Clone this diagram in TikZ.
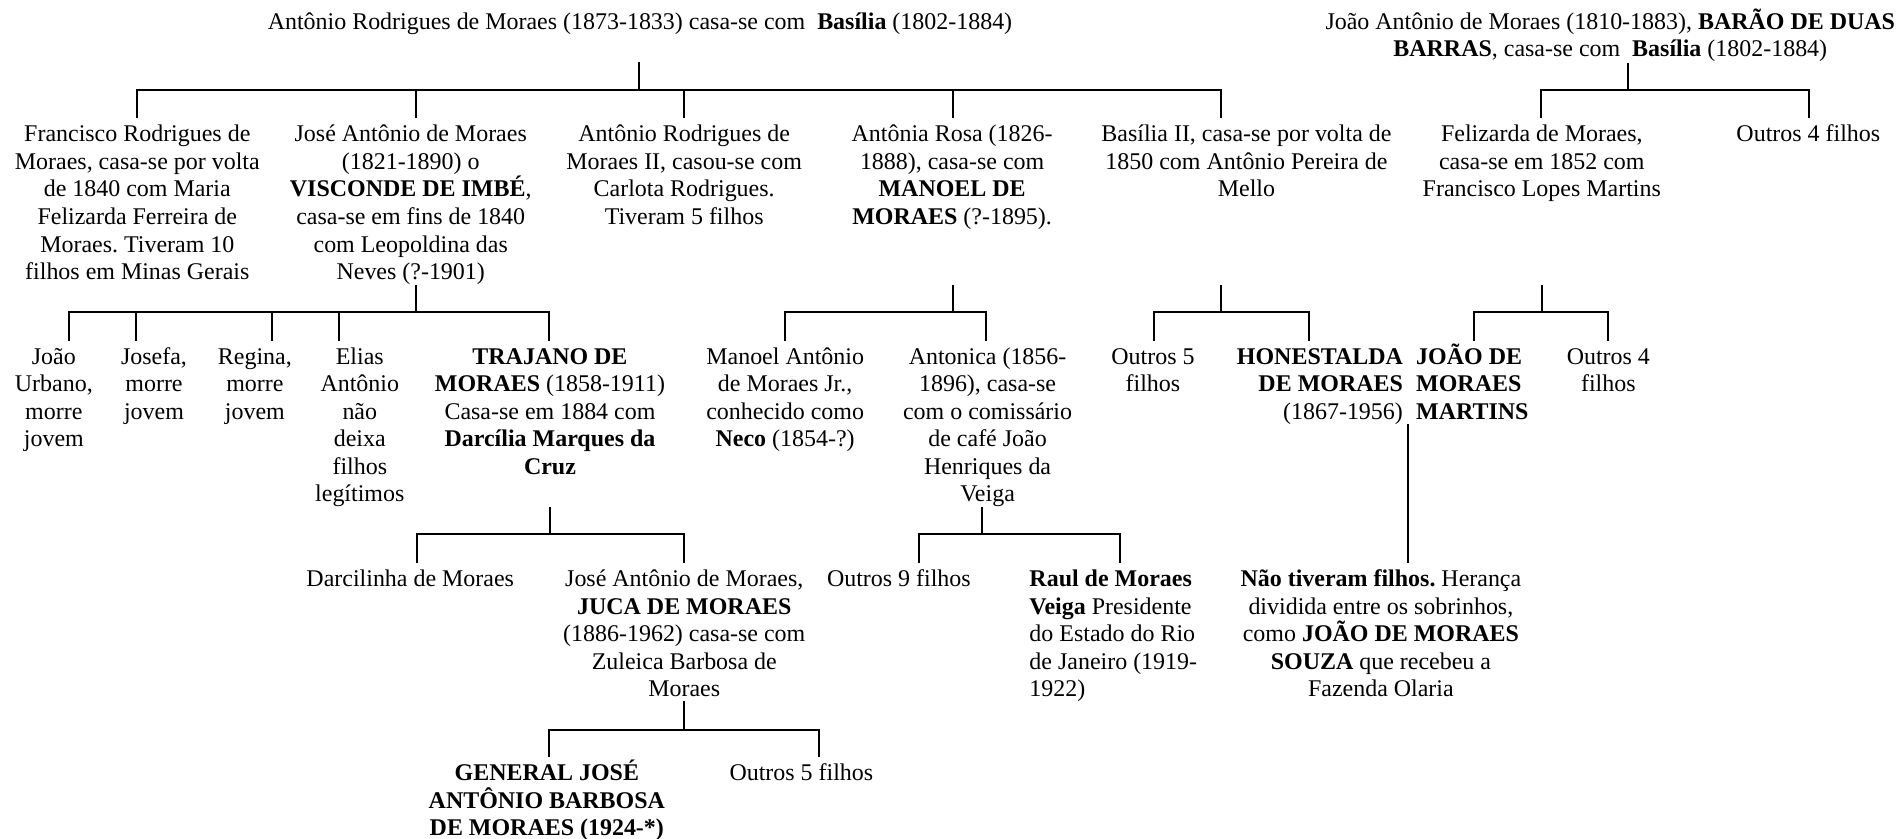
\documentclass[tikz,border=0pt]{standalone}
\usepackage{fontspec}
\setmainfont{Liberation Serif}
\newcommand\fl{\rule{0pt}{18.5pt}}
\frenchspacing
\begin{document}
\begin{tikzpicture}[x=1pt,y=-1pt,line width=1.6pt,
  txt/.style={align=center,inner sep=0pt,anchor=north,font=\fontsize{19.8}{22.8}\selectfont},
  txtl/.style={txt,align=left},
  txtr/.style={txt,align=right}]
\useasboundingbox (0,0) rectangle (1568,693);

% ---------- titles ----------
\node[txt] (t1) at (529,4.9) {\fl Antônio Rodrigues de Moraes (1873-1833) casa-se com~ \textbf{Basília} (1802-1884)};
\node[txt] (t2) at (1331,4.9) {\fl João Antônio de Moraes (1810-1883), \textbf{BARÃO DE DUAS}\\\textbf{BARRAS}, casa-se com~ \textbf{Basília} (1802-1884)};

% ---------- level 1 ----------
\node[txt] (fran) at (113.5,97.8) {\fl Francisco Rodrigues de\\Moraes, casa-se por volta\\de 1840 com Maria\\Felizarda Ferreira de\\Moraes. Tiveram 10\\filhos em Minas Gerais};
\node[txt] (jose) at (339.5,97.8) {\fl José Antônio de Moraes\\(1821-1890) o\\\textbf{VISCONDE DE IMBÉ},\\casa-se em fins de 1840\\com Leopoldina das\\Neves (?-1901)};
\node[txt] (ant2) at (565.5,97.8) {\fl Antônio Rodrigues de\\Moraes II, casou-se com\\Carlota Rodrigues.\\Tiveram 5 filhos};
\node[txt] (arosa) at (787,97.8) {\fl Antônia Rosa (1826-\\1888), casa-se com\\\textbf{MANOEL DE}\\\textbf{MORAES} (?-1895).};
\node[txt] (bas2) at (1030.3,97.8) {\fl Basília II, casa-se por volta de\\1850 com Antônio Pereira de\\Mello};
\node[txt] (feliz) at (1274.4,97.8) {\fl Felizarda de Moraes,\\casa-se em 1852 com\\Francisco Lopes Martins};
\node[txt] (outa) at (1494.7,97.8) {\fl Outros 4 filhos};

% ---------- level 2 ----------
\node[txt] (joao) at (44.5,281.6) {\fl João\\Urbano,\\morre\\jovem};
\node[txt] (josefa) at (127.3,281.6) {\fl Josefa,\\morre\\jovem};
\node[txt] (regina) at (210.7,281.6) {\fl Regina,\\morre\\jovem};
\node[txt] (elias) at (297.4,281.6) {\fl Elias\\Antônio\\não\\deixa\\filhos\\legítimos};
\node[txt] (traj) at (454.6,281.6) {\fl\textbf{TRAJANO DE}\\\textbf{MORAES} (1858-1911)\\Casa-se em 1884 com\\\textbf{Darcília Marques da}\\\textbf{Cruz}};
\node[txt] (neco) at (649,281.6) {\fl Manoel Antônio\\de Moraes Jr.,\\conhecido como\\\textbf{Neco} (1854-?)};
\node[txt] (antonica) at (816.3,281.6) {\fl Antonica (1856-\\1896), casa-se\\com o comissário\\de café João\\Henriques da\\Veiga};
\node[txt] (outb) at (953,281.6) {\fl Outros 5\\filhos};
\node[txtr] (hon) at (1091,281.6) {\fl\textbf{HONESTALDA}\\\textbf{DE MORAES}\\(1867-1956)};
\node[txtl] (jmm) at (1217,281.6) {\fl\textbf{JOÃO DE}\\\textbf{MORAES}\\\textbf{MARTINS}};
\node[txt] (outc) at (1329.4,281.6) {\fl Outros 4\\filhos};

% ---------- level 3 ----------
\node[txt] (darc) at (339.1,465.6) {\fl Darcilinha de Moraes};
\node[txt] (juca) at (565.6,465.6) {\fl José Antônio de Moraes,\\\textbf{JUCA DE MORAES}\\(1886-1962) casa-se com\\Zuleica Barbosa de\\Moraes};
\node[txt] (outd) at (743,465.6) {\fl Outros 9 filhos};
\node[txtl] (raul) at (920.2,465.6) {\fl\textbf{Raul de Moraes}\\\textbf{Veiga} Presidente\\do Estado do Rio\\de Janeiro (1919-\\1922)};
\node[txt] (nao) at (1141.4,465.6) {\fl\textbf{Não tiveram filhos.} Herança\\dividida entre os sobrinhos,\\como \textbf{JOÃO DE MORAES}\\\textbf{SOUZA} que recebeu a\\Fazenda Olaria};

% ---------- level 4 ----------
\node[txt] (gen) at (452,626) {\fl\textbf{GENERAL JOSÉ}\\\textbf{ANTÔNIO BARBOSA}\\\textbf{DE MORAES (1924-*)}};
\node[txt] (oute) at (662.4,626) {\fl Outros 5 filhos};

% ---------- connector coordinates ----------
\coordinate (p1) at (528.4,51);   \coordinate (b1) at (528.4,74.4);
\coordinate (d1a) at (113.3,97.8); \coordinate (d1b) at (344,97.8);
\coordinate (d1c) at (565.7,97.8); \coordinate (d1d) at (787.5,97.8);
\coordinate (d1e) at (1008.9,97.8);

\coordinate (p2) at (1346,52);    \coordinate (b2) at (1346,74.4);
\coordinate (d2a) at (1273.8,97.8); \coordinate (d2b) at (1495,97.8);

\coordinate (pj) at (344,235.6);  \coordinate (bj) at (344,258.2);
\coordinate (dja) at (57.2,281.6); \coordinate (djb) at (112.6,281.6);
\coordinate (djc) at (224.6,281.6); \coordinate (djd) at (280.5,281.6);
\coordinate (dje) at (453.9,281.6);

\coordinate (pa) at (787.5,235.6); \coordinate (ba) at (787.5,258.2);
\coordinate (daa) at (649,281.6);  \coordinate (dab) at (814.8,281.6);

\coordinate (pb) at (1008.9,235.6); \coordinate (bb) at (1008.9,258.2);
\coordinate (dba) at (953.6,281.6); \coordinate (dbb) at (1081.6,281.6);

\coordinate (pf) at (1274.4,235.6); \coordinate (bf) at (1274.4,258.2);
\coordinate (dfa) at (1218.7,281.6); \coordinate (dfb) at (1329.4,281.6);

\coordinate (pt) at (454.3,419);  \coordinate (bt) at (454.3,441.7);
\coordinate (dta) at (345,465.6); \coordinate (dtb) at (565.3,465.6);

\coordinate (pc) at (811.5,419);  \coordinate (bc) at (811.5,441.7);
\coordinate (dca) at (759.8,465.6); \coordinate (dcb) at (925.8,465.6);

\coordinate (ph) at (1164,350.5); \coordinate (dh) at (1164,465.6);

\coordinate (pu) at (565.6,579.4); \coordinate (bu) at (565.6,603.4);
\coordinate (dua) at (453.9,626);  \coordinate (dub) at (677.2,626);

% ---------- connectors ----------
\draw (p1) -- (b1);
\draw (d1a) |- (b1) -| (d1e);
\foreach \d in {d1b,d1c,d1d} \draw (\d) -- (\d |- b1);

\draw (p2) -- (b2);
\draw (d2a) |- (b2) -| (d2b);

\draw (pj) -- (bj);
\draw (dja) |- (bj) -| (dje);
\foreach \d in {djb,djc,djd} \draw (\d) -- (\d |- bj);

\draw (pa) -- (ba);
\draw (daa) |- (ba) -| (dab);

\draw (pb) -- (bb);
\draw (dba) |- (bb) -| (dbb);

\draw (pf) -- (bf);
\draw (dfa) |- (bf) -| (dfb);

\draw (pt) -- (bt);
\draw (dta) |- (bt) -| (dtb);

\draw (pc) -- (bc);
\draw (dca) |- (bc) -| (dcb);

\draw (ph) -- (dh);

\draw (pu) -- (bu);
\draw (dua) |- (bu) -| (dub);
\end{tikzpicture}
\end{document}
